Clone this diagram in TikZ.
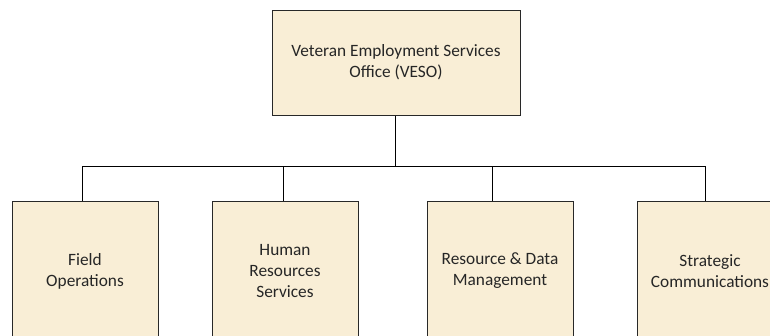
\documentclass[tikz,border=0pt]{standalone}
\usepackage{fontspec}
\setmainfont{Carlito}
\definecolor{parch}{RGB}{249,238,214}
\definecolor{edge}{RGB}{40,40,40}
\tikzset{
  unit/.style={draw=edge, line width=1pt, fill=parch, minimum width=146pt, inner sep=0pt,
    align=center, font=\fontsize{17.3}{21}\selectfont, text=black!85},
  link/.style={draw=black, line width=1pt}
}
\begin{document}
\begin{tikzpicture}[x=1pt,y=-1pt]
\useasboundingbox (0,0) rectangle (770,335);
\clip (0,0) rectangle (770,335);
\node[unit, minimum width=248pt, minimum height=105pt] (veso) at (396,62.5) {Veteran Employment Services\\Office (VESO)};
\node[unit, minimum height=140pt] (field) at (85,271) {Field\\Operations};
\node[unit, minimum height=140pt] (hr) at (285,271) {Human\\Resources\\Services};
\node[unit, minimum height=140pt] (rdm) at (500,271) {Resource \& Data\\Management};
\node[unit, minimum height=140pt] (sc) at (710,271) {Strategic\\Communications};
\coordinate (bus) at (395,166);
\coordinate (fieldtop) at ([xshift=-3pt]field.north);
\coordinate (hrtop) at ([xshift=-2pt]hr.north);
\coordinate (rdmtop) at ([xshift=-8pt]rdm.north);
\coordinate (sctop) at ([xshift=-5pt]sc.north);
\draw[link] (veso.south -| bus) -- (bus);
\draw[link] (fieldtop) -- (fieldtop |- bus) -| (sctop);
\draw[link] (hrtop) -- (hrtop |- bus);
\draw[link] (rdmtop) -- (rdmtop |- bus);
\end{tikzpicture}
\end{document}
